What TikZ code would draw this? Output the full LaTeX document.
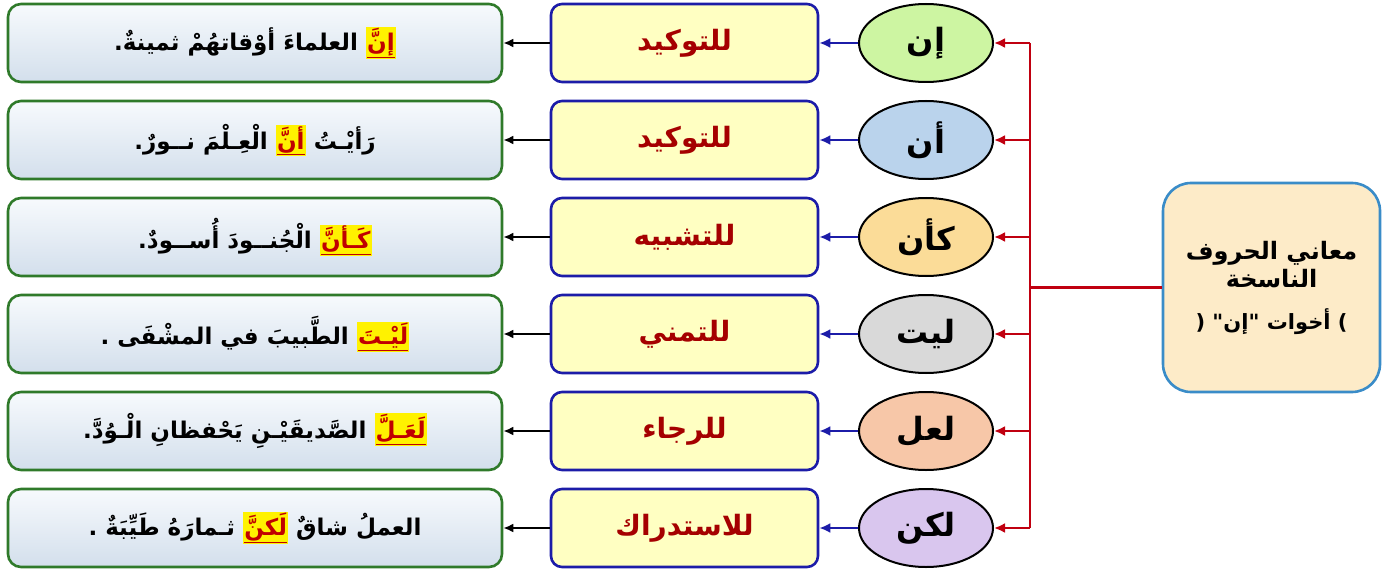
\documentclass[tikz,border=0pt]{standalone}
\usepackage{fontspec}
\usetikzlibrary{arrows.meta,shapes.geometric}
\newfontfamily\arabicfont[Script=Arabic]{DejaVu Sans}
\definecolor{sgreen}{HTML}{2F7A2A}
\definecolor{stop}{HTML}{F7FAFD}
\definecolor{sbot}{HTML}{D3DFEC}
\definecolor{mblue}{HTML}{1C1CA8}
\definecolor{myel}{HTML}{FFFFC2}
\definecolor{mred}{HTML}{A50000}
\definecolor{treered}{HTML}{C00010}
\definecolor{hly}{HTML}{FFF200}
\definecolor{hlr}{HTML}{C00000}
\definecolor{egreen}{HTML}{CDF5A2}
\definecolor{eblue}{HTML}{BAD3EC}
\definecolor{eorange}{HTML}{FBDC98}
\definecolor{egray}{HTML}{D9D9D9}
\definecolor{esalmon}{HTML}{F7C7A8}
\definecolor{epurple}{HTML}{D9C6EE}
\definecolor{rootfill}{HTML}{FDEBC8}
\definecolor{rootdraw}{HTML}{3A8CC8}
% Each Arabic word sits in its own box; the words are written in visual
% (left-to-right) order so that the line reads correctly from right to left
% while the coloured highlight keeps working (no TeXXeT reversal of colour specials).
\newcommand{\aw}[1]{\hbox{#1}}
\newcommand{\hlw}[1]{{\setlength{\fboxsep}{1.2pt}\colorbox{hly}{\color{hlr}\underline{\hbox{#1}}}}}
\begin{document}
\begin{tikzpicture}[x=1pt,y=-1pt,
  sent/.style={draw=sgreen, line width=2.6pt, rounded corners=13pt, top color=stop, bottom color=sbot,
    minimum width=494pt, minimum height=78pt, inner sep=0pt,
    font=\arabicfont\bfseries\fontsize{23}{27}\selectfont},
  meaning/.style={draw=mblue, line width=2.6pt, rounded corners=11pt, fill=myel,
    minimum width=267pt, minimum height=78pt, inner sep=0pt, text=mred,
    font=\arabicfont\bfseries\fontsize{28}{32}\selectfont},
  harf/.style={ellipse, draw=black, line width=2pt, minimum width=134pt, minimum height=78pt,
    inner sep=0pt, font=\arabicfont\bfseries\fontsize{32}{36}\selectfont},
  rootbox/.style={draw=rootdraw, line width=2.6pt, rounded corners=28pt, fill=rootfill,
    minimum width=217pt, minimum height=209pt, inner sep=0pt, align=center,
    font=\arabicfont\bfseries\fontsize{24}{28}\selectfont},
  treeline/.style={draw=treered, line width=2.4pt},
  redarrow/.style={draw=treered, line width=2.4pt, -{Latex[length=11pt,width=10pt]}},
  bluearrow/.style={draw=mblue, line width=2.4pt, -{Latex[length=11pt,width=10pt]}},
  blackarrow/.style={draw=black, line width=2pt, -{Latex[length=10pt,width=9pt]}}
]
\useasboundingbox (0,0) rectangle (1391,572);

% root
\node[rootbox] (root) at (1271.5,287.5) {\aw{الحروف} \aw{معاني}\\ \aw{الناسخة}\\[14pt]
  {\fontsize{21}{25}\selectfont ( \aw{"إن"} \aw{أخوات} )}};

% harf ellipses
\node[harf, fill=egreen]  (e1) at (926,43)  {إن};
\node[harf, fill=eblue]   (e2) at (926,140) {أن};
\node[harf, fill=eorange] (e3) at (926,237) {كأن};
\node[harf, fill=egray]   (e4) at (926,334) {ليت};
\node[harf, fill=esalmon] (e5) at (926,431) {لعل};
\node[harf, fill=epurple] (e6) at (926,528) {لكن};

% meanings
\node[meaning] (m1) at (684.5,43)  {للتوكيد};
\node[meaning] (m2) at (684.5,140) {للتوكيد};
\node[meaning] (m3) at (684.5,237) {للتشبيه};
\node[meaning] (m4) at (684.5,334) {للتمني};
\node[meaning] (m5) at (684.5,431) {للرجاء};
\node[meaning] (m6) at (684.5,528) {للاستدراك};

% sentences, words in visual order (left to right)
\node[sent] (t1) at (255,43)  {\aw{.}\aw{ثمينةٌ} \aw{أوْقاتهُمْ} \aw{العلماءَ} \hlw{إنَّ}};
\node[sent] (t2) at (255,140) {\aw{.}\aw{نــورٌ} \aw{الْعِـلْمَ} \hlw{أنَّ} \aw{رَأيْـتُ}};
\node[sent] (t3) at (255,237) {\aw{.}\aw{أُســودٌ} \aw{الْجُنــودَ} \hlw{كَـأنَّ}};
\node[sent] (t4) at (255,334) {\aw{.} \aw{المشْفَى} \aw{في} \aw{الطَّبيبَ} \hlw{لَيْـتَ}};
\node[sent] (t5) at (255,431) {\aw{.}\aw{الْـوُدَّ} \aw{يَحْفظانِ} \aw{الصَّديقَيْـنِ} \hlw{لَعَـلَّ}};
\node[sent] (t6) at (255,528) {\aw{.} \aw{طَيِّبَةٌ} \aw{ثـمارَهُ} \hlw{لَكنَّ} \aw{شاقٌ} \aw{العملُ}};

% tree
\coordinate (s1) at (1030,43);
\coordinate (s2) at (1030,140);
\coordinate (s3) at (1030,237);
\coordinate (s4) at (1030,334);
\coordinate (s5) at (1030,431);
\coordinate (s6) at (1030,528);
\coordinate (sj) at (1030,287.5);
\draw[treeline] (s1) -- (s6);
\draw[treeline] (root.west) -- (sj);
\foreach \i in {1,...,6} {
  \draw[redarrow] (s\i) -- (e\i.east);
  \draw[bluearrow] (e\i.west) -- (m\i.east);
  \draw[blackarrow] (m\i.west) -- (t\i.east);
}
\end{tikzpicture}
\end{document}
